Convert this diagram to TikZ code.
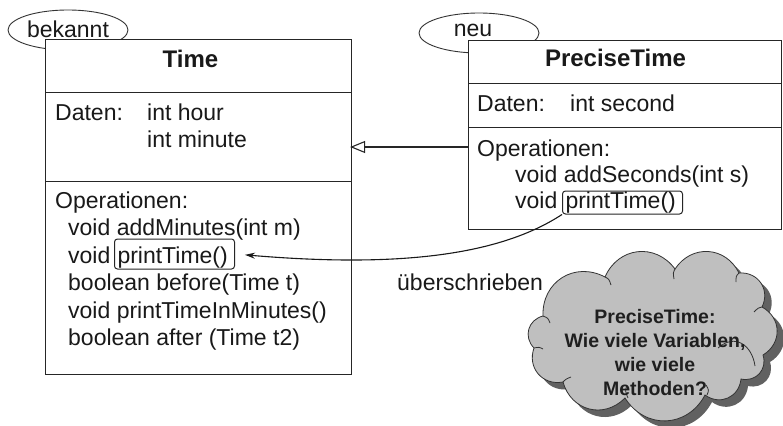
\documentclass[tikz,border=0pt]{standalone}
\usepackage{fontspec}
\setmainfont{Liberation Sans}
\usetikzlibrary{arrows.meta,shapes.geometric}

% outline of the question cloud (clockwise, one bump per segment)
\newcommand\qcloudpath{(543,316) to[cbump] (605,277) to[cbump] (675,269)
  to[cbump] (739,273) to[cbump] (762,307) to[cbump] (763,355)
  to[cbump] (741,379) to[cbump] (705,395) to[cbump] (625,398)
  to[cbump] (563,382) to[cbump] (534,348) to[cbump] (543,316) -- cycle}

\begin{document}
\begin{tikzpicture}[x=1pt, y=-1pt,
  every node/.style={inner sep=0pt, text=black!90},
  body/.style={font=\fontsize{23}{27}\selectfont},
  txt/.style={body, anchor=base west},
  head/.style={font=\fontsize{24}{28}\selectfont\bfseries, anchor=base},
  compart/.style={draw=black!85, line width=1.1pt, fill=white, anchor=north west},
  tag/.style={ellipse, draw=black!80, line width=0.9pt, fill=white,
    minimum width=120pt, minimum height=40pt},
  hilite/.style={body, draw=black!85, line width=1pt, rounded corners=3pt,
    anchor=base west, inner xsep=3pt},
  gen/.style={draw=black!85, line width=1.1pt,
    -{Triangle[open, length=15pt, width=12pt]}},
  redef/.style={draw=black!90, line width=1.1pt,
    -{Stealth[length=10pt, width=6pt]}},
  cbump/.style={bend left=60, looseness=1.2},
  cloudline/.style={draw=black!80, line width=0.8pt},
]
\useasboundingbox (0,0) rectangle (783,425);

% status tags behind the class boxes
\node[tag] (known) at (68,30) {};
\node[anchor=base, body] (knownlbl) at (68,38) {bekannt};
\node[tag] (new) at (479,33) {};
\node[anchor=base, body] (newlbl) at (473,37) {neu};

% class Time
\node[compart, minimum width=306pt, minimum height=53pt] (ttitle) at (45,39) {};
\node[compart, minimum width=306pt, minimum height=89pt] (tdata) at (45,92) {};
\node[compart, minimum width=306pt, minimum height=193pt] (tops) at (45,181) {};
\node[head] (tname) at (190.5,68) {Time};
\node[txt] (tdlbl) at (55,121) {Daten:};
\node[txt] (tv1) at (147,121) {int hour};
\node[txt] (tv2) at (147,147) {int minute};
\node[txt] (tolbl) at (55,208) {Operationen:};
\node[txt] (to1) at (68,235.5) {void addMinutes(int m)};
\node[txt] (to2) at (68,263) {void};
\node[hilite, text height=22pt, text depth=4pt, inner ysep=2pt] (tprint) at (114,263)
  {\makebox[114pt][l]{printTime()}};
\node[txt] (to3) at (68,290.5) {boolean before(Time t)};
\node[txt] (to4) at (68,318) {void printTimeInMinutes()};
\node[txt] (to5) at (68,345.5) {boolean after (Time t2)};

% class PreciseTime
\node[compart, minimum width=313pt, minimum height=43pt] (ptitle) at (468,40) {};
\node[compart, minimum width=313pt, minimum height=44pt] (pdata) at (468,83) {};
\node[compart, minimum width=313pt, minimum height=102pt] (pops) at (468,127) {};
\node[head] (pname) at (615.5,67) {PreciseTime};
\node[txt] (pdlbl) at (477,111) {Daten:};
\node[txt] (pv1) at (570,111) {int second};
\node[txt] (polbl) at (477,156) {Operationen:};
\node[txt] (po1) at (515,182) {void addSeconds(int s)};
\node[txt] (po2) at (515,208) {void};
\node[hilite, text height=15.5pt, text depth=4.5pt, inner ysep=1.5pt] (pprint) at (562,208)
  {\makebox[114pt][l]{printTime()}};

% inheritance
\draw[gen, shorten >=-2pt] ([yshift=-20pt]pops.north west) -- ([yshift=-20pt]pops.north west -| tdata.east);

% overriding
\draw[redef, shorten >=10pt] (pprint.south west) .. controls (500,255) and (400,268) .. (tprint.east);
\node[txt] (over) at (397,290) {überschrieben};

% question cloud: shadow, body, inner puff lines
\fill[black!62, shift={(7,7)}] \qcloudpath;
\path[cloudline, fill=black!25] \qcloudpath;
\draw[cloudline] (718,348) .. controls (735,333) and (752,345) .. (755,366);
\draw[cloudline] (627,385) .. controls (625,391) .. (628,398);
\draw[cloudline] (706,385) .. controls (709,390) .. (707,395);
\draw[cloudline] (543,316) .. controls (548,318) .. (550,323);
\draw[cloudline] (605,277) .. controls (609,279) .. (611,285);
\draw[cloudline] (675,269) .. controls (673,273) .. (674,279);
\draw[cloudline] (739,273) .. controls (736,276) .. (736,282);
\draw[cloudline] (762,307) .. controls (758,308) .. (754,312);
\draw[cloudline] (563,382) .. controls (566,379) .. (571,377);
\draw[cloudline] (534,348) .. controls (539,347) .. (543,349);
\node[font=\fontsize{19.5}{24.3}\selectfont\bfseries, align=center, text=black!88] (qtext) at (655,352.5)
  {PreciseTime:\\Wie viele Variablen,\\wie viele\\Methoden?};
\end{tikzpicture}
\end{document}
